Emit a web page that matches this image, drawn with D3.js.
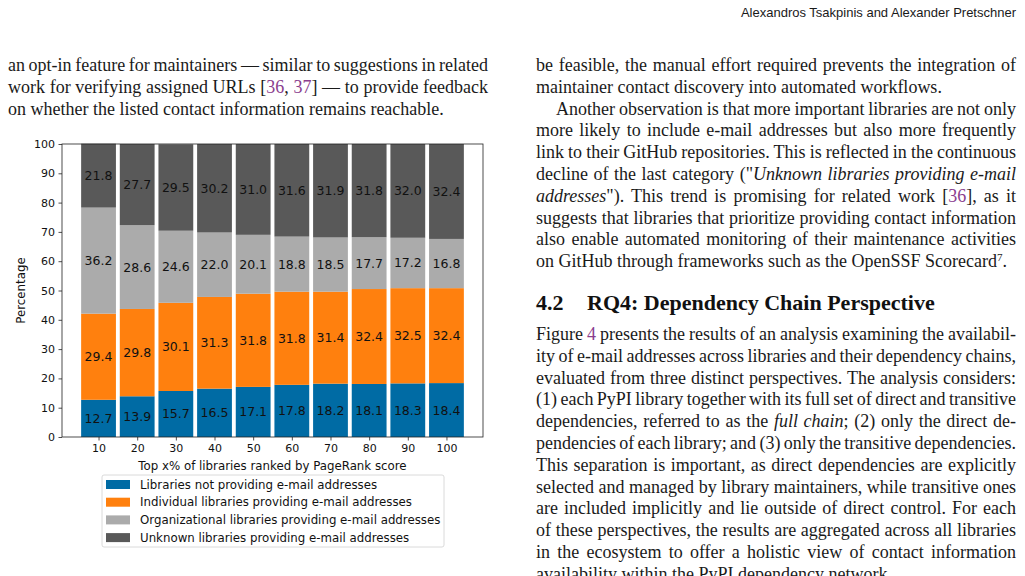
<!DOCTYPE html>
<html>
<head>
<meta charset="utf-8">
<script src="https://cdn.jsdelivr.net/npm/d3@7"></script>
<style>
  html, body { margin: 0; padding: 0; background: #fff; }
  svg { display: block; }
</style>
</head>
<body>
<div id="page"></div>
<script>
// Datos del gráfico
const topPercent = [10, 20, 30, 40, 50, 60, 70, 80, 90, 100];
const notProviding = [12.7, 13.9, 15.7, 16.5, 17.1, 17.8, 18.2, 18.1, 18.3, 18.4];
const individual = [29.4, 29.8, 30.1, 31.3, 31.8, 31.8, 31.4, 32.4, 32.5, 32.4];
const organizational = [36.2, 28.6, 24.6, 22.0, 20.1, 18.8, 18.5, 17.7, 17.2, 16.8];
const unknown = [21.8, 27.7, 29.5, 30.2, 31.0, 31.6, 31.9, 31.8, 32.0, 32.4];
const seriesNames = [
  "Libraries not providing e-mail addresses",
  "Individual libraries providing e-mail addresses",
  "Organizational libraries providing e-mail addresses",
  "Unknown libraries providing e-mail addresses",
];
const yTicks = [0, 10, 20, 30, 40, 50, 60, 70, 80, 90, 100];
const colors = ["#006ba4", "#ff800e", "#ababab", "#595959"];

const width = 1025;
const height = 576;

const svg = d3
  .select("#page")
  .append("svg")
  .attr("width", width)
  .attr("height", height);

// ---------- CHART ----------
const plot = { left: 62, right: 483, top: 144, bottom: 437 };

const x = d3.scaleLinear().domain([0.55, 109.45]).range([plot.left, plot.right]);
const y = d3.scaleLinear().domain([0, 100]).range([plot.bottom, plot.top]);
const barWidth = 9;

// tabla para d3.stack
const table = topPercent.map((p, i) => ({
  p: p,
  s0: notProviding[i],
  s1: individual[i],
  s2: organizational[i],
  s3: unknown[i],
}));
const stacked = d3.stack().keys(["s0", "s1", "s2", "s3"])(table);

const chart = svg.append("g").attr("id", "chart");

const layers = chart
  .selectAll("g.layer")
  .data(stacked)
  .enter()
  .append("g")
  .attr("class", "layer")
  .attr("fill", (d, i) => colors[i]);

layers
  .selectAll("rect")
  .data((d) => d)
  .enter()
  .append("rect")
  .attr("x", (d) => x(d.data.p - barWidth / 2))
  .attr("width", (d) => x(d.data.p + barWidth / 2) - x(d.data.p - barWidth / 2))
  .attr("y", (d) => y(d[1]))
  .attr("height", (d) => y(d[0]) - y(d[1]));

// etiquetas dentro de cada segmento
layers
  .selectAll("text")
  .data((d) => d.map((v) => ({ v: v, key: d.key })))
  .enter()
  .append("text")
  .attr("x", (d) => x(d.v.data.p))
  .attr("y", (d) => y((d.v[0] + d.v[1]) / 2))
  .attr("text-anchor", "middle")
  .attr("dominant-baseline", "central")
  .attr("fill", "#111")
  .style("font-family", "DejaVu Sans")
  .style("font-size", "12.5px")
  .text((d) => d.v.data[d.key].toFixed(1));

// ejes
const xAxis = d3.axisBottom(x).tickValues(topPercent).tickSize(3.5).tickPadding(3.5).tickSizeOuter(0);
const yAxis = d3.axisLeft(y).tickValues(yTicks).tickSize(3.5).tickPadding(3.5).tickSizeOuter(0);

const xAxisGroup = chart
  .append("g")
  .attr("transform", `translate(0, ${plot.bottom})`)
  .call(xAxis);
const yAxisGroup = chart
  .append("g")
  .attr("transform", `translate(${plot.left}, 0)`)
  .call(yAxis);

[xAxisGroup, yAxisGroup].forEach((g) => {
  g.selectAll("text")
    .style("font-family", "DejaVu Sans")
    .style("font-size", "11px")
    .attr("fill", "#111");
  g.selectAll("line").attr("stroke", "#222").attr("stroke-width", 0.8);
  g.select(".domain").remove();
});

// marco
chart
  .append("rect")
  .attr("x", plot.left)
  .attr("y", plot.top)
  .attr("width", plot.right - plot.left)
  .attr("height", plot.bottom - plot.top)
  .attr("fill", "none")
  .attr("stroke", "#222")
  .attr("stroke-width", 0.8);

chart
  .append("text")
  .attr("x", (plot.left + plot.right) / 2)
  .attr("y", 470)
  .attr("text-anchor", "middle")
  .style("font-family", "DejaVu Sans")
  .style("font-size", "11.8px")
  .attr("fill", "#111")
  .text("Top x% of libraries ranked by PageRank score");

chart
  .append("text")
  .attr("transform", `translate(25, ${(plot.top + plot.bottom) / 2}) rotate(-90)`)
  .attr("text-anchor", "middle")
  .style("font-family", "DejaVu Sans")
  .style("font-size", "11.8px")
  .attr("fill", "#111")
  .text("Percentage");

// leyenda
const legend = chart.append("g").attr("transform", "translate(102, 475)");
legend
  .append("rect")
  .attr("width", 342)
  .attr("height", 72)
  .attr("rx", 2)
  .attr("fill", "#fff")
  .attr("stroke", "#d0d0d0")
  .attr("stroke-width", 0.8);

const legendItems = legend
  .selectAll("g.item")
  .data(seriesNames)
  .enter()
  .append("g")
  .attr("class", "item")
  .attr("transform", (d, i) => `translate(0, ${9.5 + i * 17.7})`);

legendItems
  .append("rect")
  .attr("x", 4)
  .attr("y", -4.5)
  .attr("width", 24)
  .attr("height", 9)
  .attr("fill", (d, i) => colors[i]);

legendItems
  .append("text")
  .attr("x", 38)
  .attr("dominant-baseline", "central")
  .style("font-family", "DejaVu Sans")
  .style("font-size", "11.8px")
  .attr("fill", "#111")
  .text((d) => d);

// ---------- TEXTO DE LA PÁGINA ----------
const purple = "#8a3d8e";
const serif = "'Liberation Serif', 'DejaVu Serif', serif";
const lineH = 21.8;

// cada línea: [segmentos, justificar, sangría]
// segmento: texto o {t, i (itálica), c (cita), sup (superíndice)}
const leftLines = [
  [["an opt-in feature for maintainers — similar to suggestions in related"], true],
  [["work for verifying assigned URLs [", { t: "36", c: 1 }, ", ", { t: "37", c: 1 }, "] — to provide feedback"], true],
  [["on whether the listed contact information remains reachable."], false],
];

const rightTop = [
  [["be feasible, the manual effort required prevents the integration of"], true],
  [["maintainer contact discovery into automated workflows."], false],
  [["Another observation is that more important libraries are not only"], true, 20],
  [["more likely to include e-mail addresses but also more frequently"], true],
  [["link to their GitHub repositories. This is reflected in the continuous"], true],
  [["decline of the last category (\"", { t: "Unknown libraries providing e-mail", i: 1 }], true],
  [[{ t: "addresses", i: 1 }, "\"). This trend is promising for related work [", { t: "36", c: 1 }, "], as it"], true],
  [["suggests that libraries that prioritize providing contact information"], true],
  [["also enable automated monitoring of their maintenance activities"], true],
  [["on GitHub through frameworks such as the OpenSSF Scorecard", { t: "7", sup: 1 }, "."], false],
];

const rightBottom = [
  [["Figure ", { t: "4", c: 1 }, " presents the results of an analysis examining the availabil-"], true],
  [["ity of e-mail addresses across libraries and their dependency chains,"], true],
  [["evaluated from three distinct perspectives. The analysis considers:"], true],
  [["(1) each PyPI library together with its full set of direct and transitive"], true],
  [["dependencies, referred to as the ", { t: "full chain", i: 1 }, "; (2) only the direct de-"], true],
  [["pendencies of each library; and (3) only the transitive dependencies."], true],
  [["This separation is important, as direct dependencies are explicitly"], true],
  [["selected and managed by library maintainers, while transitive ones"], true],
  [["are included implicitly and lie outside of direct control. For each"], true],
  [["of these perspectives, the results are aggregated across all libraries"], true],
  [["in the ecosystem to offer a holistic view of contact information"], true],
  [["availability within the PyPI dependency network."], false],
];

const textGroup = svg.append("g").attr("id", "bodyText");

function drawLines(lines, x0, y0, colWidth) {
  lines.forEach((line, k) => {
    const segs = line[0].map((s) => (typeof s === "string" ? { t: s } : s));
    const justify = line[1];
    const indent = line[2] || 0;
    const t = textGroup
      .append("text")
      .attr("x", x0 + indent)
      .attr("y", y0 + k * lineH)
      .attr("fill", "#1a1a1a")
      .style("font-family", serif)
      .style("font-size", "18px");
    let raised = false;
    segs.forEach((s) => {
      const sp = t.append("tspan").text(s.t);
      if (s.i) sp.style("font-style", "italic");
      if (s.c) sp.attr("fill", purple);
      if (s.sup) {
        sp.attr("dy", -6).style("font-size", "11px");
        raised = true;
      } else if (raised) {
        sp.attr("dy", 6);
        raised = false;
      }
    });
    if (justify) {
      const target = colWidth - indent;
      const natural = t.node().getComputedTextLength();
      const spaces = (segs.map((s) => s.t).join("").match(/ /g) || []).length;
      if (spaces > 0) t.style("word-spacing", `${(target - natural) / spaces}px`);
    }
  });
}

drawLines(leftLines, 8, 71, 480);
drawLines(rightTop, 536, 71, 480);
drawLines(rightBottom, 536, 340, 480);

// título de sección
const heading = textGroup
  .append("text")
  .attr("y", 310)
  .attr("fill", "#111")
  .style("font-family", serif)
  .style("font-weight", "bold")
  .style("font-size", "22px");
heading.append("tspan").attr("x", 536).text("4.2");
heading.append("tspan").attr("x", 587).text("RQ4: Dependency Chain Perspective");

// cabecera
textGroup
  .append("text")
  .attr("x", 1016)
  .attr("y", 17)
  .attr("text-anchor", "end")
  .attr("fill", "#1a1a1a")
  .style("font-family", "'Liberation Sans', sans-serif")
  .style("font-size", "13px")
  .text("Alexandros Tsakpinis and Alexander Pretschner");
</script>
</body>
</html>
